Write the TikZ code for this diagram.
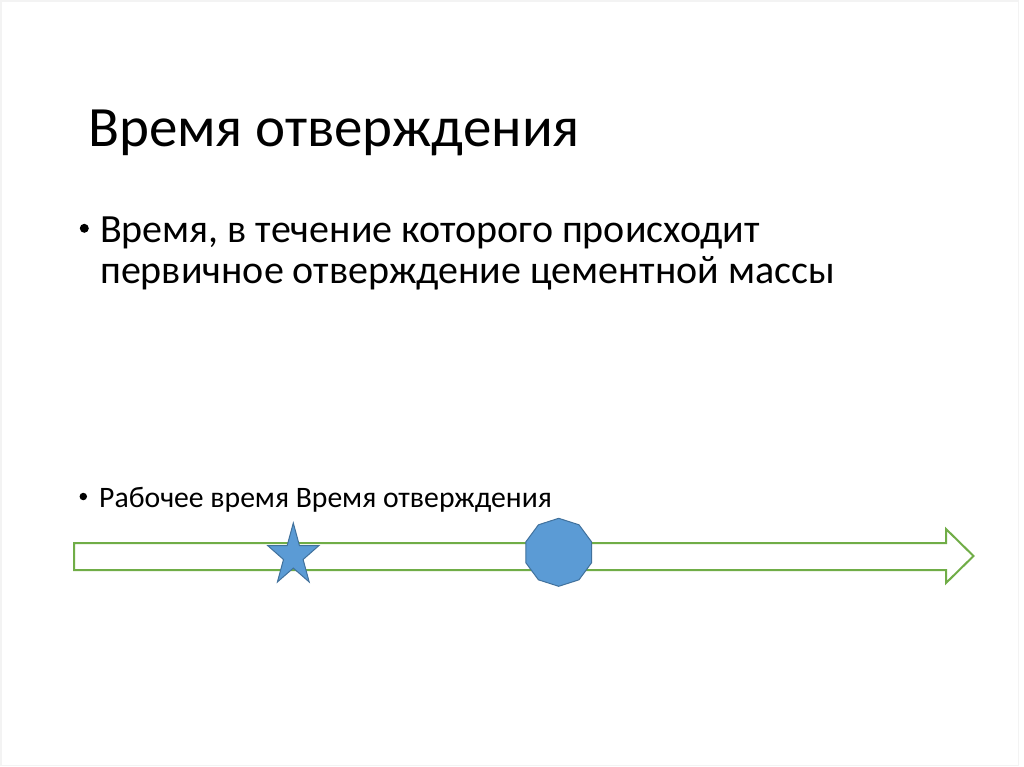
\documentclass[tikz,border=0pt]{standalone}
\usepackage{fontspec}
\setmainfont{Carlito}
\definecolor{arrowgreen}{HTML}{70AD47}
\definecolor{shapefill}{HTML}{5B9BD5}
\definecolor{shapeline}{HTML}{41719C}
\definecolor{framegray}{HTML}{F3F3F3}
\tikzset{
  titletext/.style={anchor=base west, inner sep=0pt, font=\fontsize{57}{62}\selectfont},
  bodytext/.style={anchor=base west, inner sep=0pt, font=\fontsize{40}{44}\selectfont},
  smalltext/.style={anchor=base west, inner sep=0pt, font=\fontsize{29.7}{33}\selectfont},
  bulletdot/.style={circle, fill=black, inner sep=0pt, outer sep=0pt, minimum size=#1},
  arrowline/.style={draw=arrowgreen, line width=2pt, fill=white, line join=miter},
  blueshape/.style={fill=shapefill, draw=shapeline, line width=1pt, line join=miter},
}
\begin{document}
\begin{tikzpicture}[x=1pt, y=-1pt]
\useasboundingbox (0,0) rectangle (1024,767);
\fill[white] (0,0) rectangle (1024,767);
\draw[framegray, line width=1.2pt] (1,1) rectangle (1018.5,765.5);

\node[titletext] (title) at (88,147) {Время отверждения};

\node[bulletdot=9pt] (b1) at (84.3,228.3) {};
\node[bodytext] (t1) at (100,242) {Время, в течение которого происходит};
\node[bodytext] (t1b) at (100,283) {первичное отверждение цементной массы};

\node[bulletdot=7.5pt] (b2) at (83.3,496.5) {};
\node[smalltext] (t2) at (99,507) {Рабочее время Время отверждения};

% timeline arrow
\coordinate (a1) at (74,543);
\coordinate (a2) at (946,543);
\coordinate (a3) at (946,529);
\coordinate (tip) at (973.5,556);
\coordinate (a5) at (946,583);
\coordinate (a6) at (946,570);
\coordinate (a7) at (74,570);
\draw[arrowline] (a1) -- (a2) -- (a3) -- (tip) -- (a5) -- (a6) -- (a7) -- cycle;

% star
\draw[blueshape] (293.3,523) -- (299.4,545.5) -- (319,545.5) -- (303.1,559.5) -- (309.2,582)
  -- (293.3,568.1) -- (277.4,582) -- (283.5,559.5) -- (267.6,545.5) -- (287.2,545.5) -- cycle;

% decagon
\draw[blueshape] plot[samples at={90,126,...,414}] ({558.7+34.5*cos(\x)},{552.3-34*sin(\x)}) -- cycle;
\end{tikzpicture}
\end{document}
